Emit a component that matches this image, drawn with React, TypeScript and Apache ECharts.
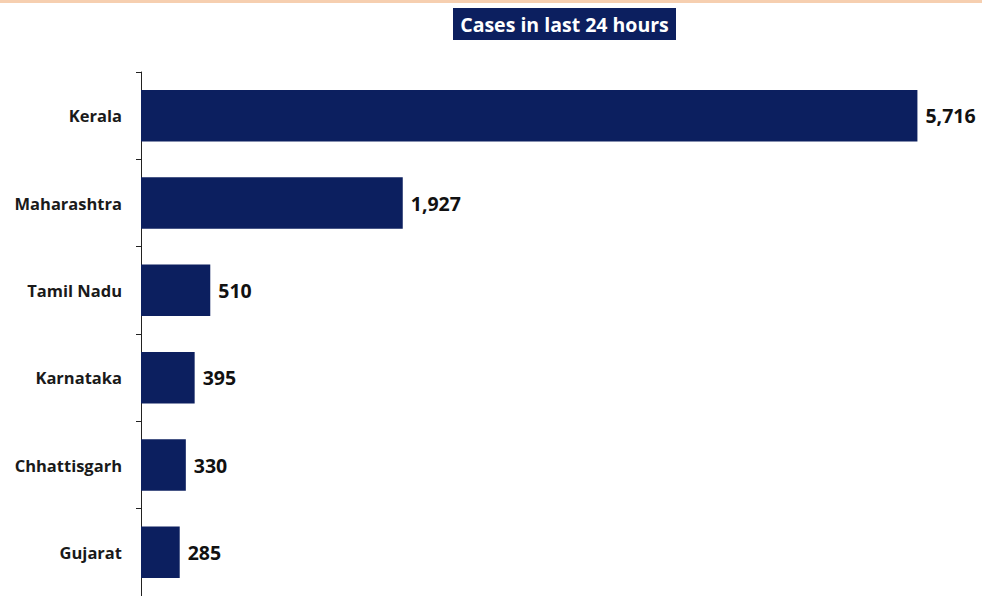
import React, { useEffect, useRef } from "react";
import * as echarts from "echarts";

const categories = ["Kerala", "Maharashtra", "Tamil Nadu", "Karnataka", "Chhattisgarh", "Gujarat"];
const cases = [5716, 1927, 510, 395, 330, 285];
const titleText = "Cases in last 24 hours";

export default function App() {
  const ref = useRef<HTMLDivElement>(null);
  useEffect(() => {
    if (!ref.current) return;
    const chart = echarts.init(ref.current, null, { renderer: "svg" });
    const navy = "#0c1f5f";
    const font = "'Open Sans', Lato, sans-serif";
    chart.setOption({
      animation: false,
      backgroundColor: "#ffffff",
      grid: { left: 141, top: 72, height: 528, right: 26, containLabel: false },
      xAxis: { type: "value", min: 0, max: 6000, show: false },
      yAxis: {
        type: "category",
        data: categories,
        inverse: true,
        axisLine: { show: true, lineStyle: { color: "#222", width: 1 } },
        axisTick: { show: true, length: 5, lineStyle: { color: "#222" } },
        axisLabel: {
          margin: 19,
          color: "#1a1a1a",
          fontFamily: font,
          fontWeight: "bold",
          fontSize: 16.5,
        },
        splitLine: { show: false },
      },
      series: [
        {
          type: "bar",
          data: cases,
          barCategoryGap: "41%",
          itemStyle: { color: navy },
          label: {
            show: true,
            position: "right",
            distance: 8,
            color: "#111",
            fontFamily: font,
            fontWeight: "bold",
            fontSize: 19.5,
            formatter: (p: any) => Number(p.value).toLocaleString("en-US"),
          },
        },
      ],
      graphic: [
        { type: "rect", left: 0, top: 0, shape: { width: 982, height: 3 }, style: { fill: "#f6cfb0" } },
        {
          type: "group",
          left: 453,
          top: 8,
          children: [
            { type: "rect", shape: { x: 0, y: 0, width: 223, height: 32 }, style: { fill: navy } },
            {
              type: "text",
              x: 111.5,
              y: 16.5,
              style: {
                text: titleText,
                fill: "#ffffff",
                fontFamily: font,
                fontWeight: "bold",
                fontSize: 19.5,
                align: "center",
                verticalAlign: "middle",
              },
            },
          ],
        },
      ],
    });
    return () => chart.dispose();
  }, []);
  return (
    <div
      ref={ref}
      style={{ position: "fixed", left: 0, top: 0, width: 982, height: 596 }}
    />
  );
}
